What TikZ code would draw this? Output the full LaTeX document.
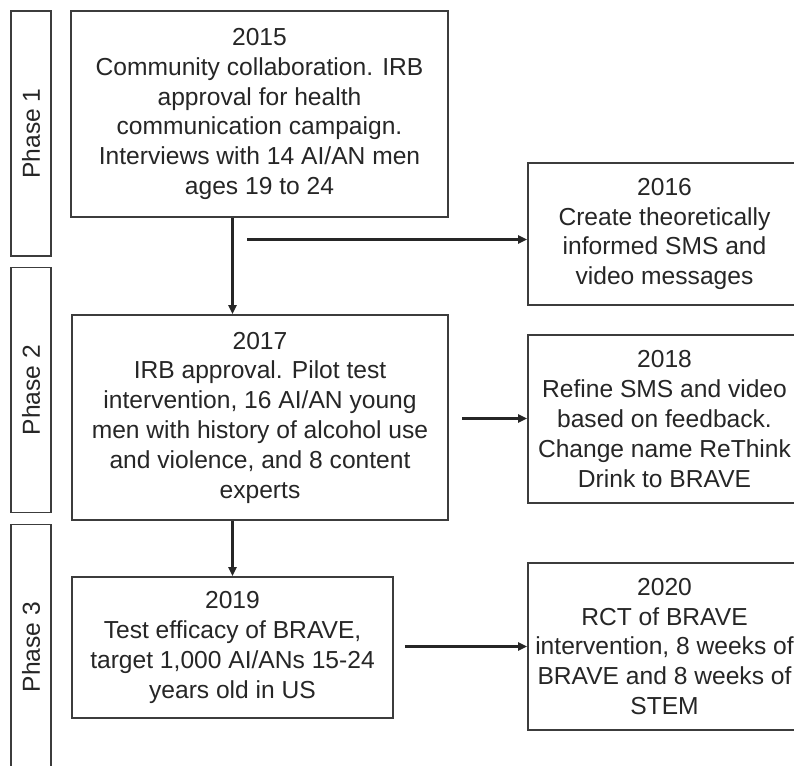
\documentclass[tikz,border=0pt]{standalone}
\usepackage{fontspec}
\setmainfont{Liberation Sans}
\usetikzlibrary{arrows.meta}
\definecolor{boxgray}{HTML}{3C3C3C}
\definecolor{txtgray}{HTML}{262626}
\begin{document}
\begin{tikzpicture}[x=1pt,y=-1pt,
  font=\fontsize{24.6}{29.8}\selectfont,
  event/.style={draw=boxgray, line width=1.7pt, text=txtgray, align=center, inner sep=0pt},
  phase/.style={event, rotate=90, minimum width=245pt, minimum height=40pt},
  link/.style={draw=black!85, line width=2.1pt, -{Triangle[length=9pt,width=8pt]}}]
\useasboundingbox (0,0) rectangle (794,765);
\clip (0,0) rectangle (794,765);
\fill[white] (0,0) rectangle (794,765);

% phases
\node[phase] (ph1) at (31,133.5) {Phase 1};
\node[phase] (ph2) at (31,390) {Phase 2};
\node[phase] (ph3) at (31,647) {Phase 3};

% events
\node[event, minimum width=377pt, minimum height=206pt] (b15) at (259.5,114)
  {2015\\Community collaboration. IRB\\approval for health\\communication campaign.\\Interviews with 14 AI/AN men\\ages 19 to 24};
\node[event, minimum width=273pt, minimum height=142pt] (b16) at (664.5,234)
  {2016\\Create theoretically\\informed SMS and\\video messages};
\node[event, minimum width=376pt, minimum height=205pt] (b17) at (260,417.5)
  {2017\\IRB approval. Pilot test\\intervention, 16 AI/AN young\\men with history of alcohol use\\and violence, and 8 content\\experts};
\node[event, minimum width=273pt, minimum height=168pt] (b18) at (664.5,419)
  {2018\\Refine SMS and video\\based on feedback.\\Change name ReThink\\Drink to BRAVE};
\node[event, minimum width=321pt, minimum height=141pt] (b19) at (232.5,647.5)
  {2019\\Test efficacy of BRAVE,\\target 1,000 AI/ANs 15-24\\years old in US};
\node[event, minimum width=273pt, minimum height=167pt] (b20) at (664.5,646.5)
  {2020\\RCT of BRAVE\\intervention, 8 weeks of\\BRAVE and 8 weeks of\\STEM};

% links
\draw[link] (b19.north |- b15.south) -- (b19.north |- b17.north);
\draw[link] (b19.north |- b17.south) -- (b19.north);
\coordinate (split) at (247,239.5);
\draw[link] (split) -- (split -| b16.west);
\coordinate (gap17) at (462,418.5);
\draw[link] (gap17) -- (gap17 -| b18.west);
\draw[link, shorten <=11pt] (b19.east |- b20.west) -- (b20.west);

\end{tikzpicture}
\end{document}
